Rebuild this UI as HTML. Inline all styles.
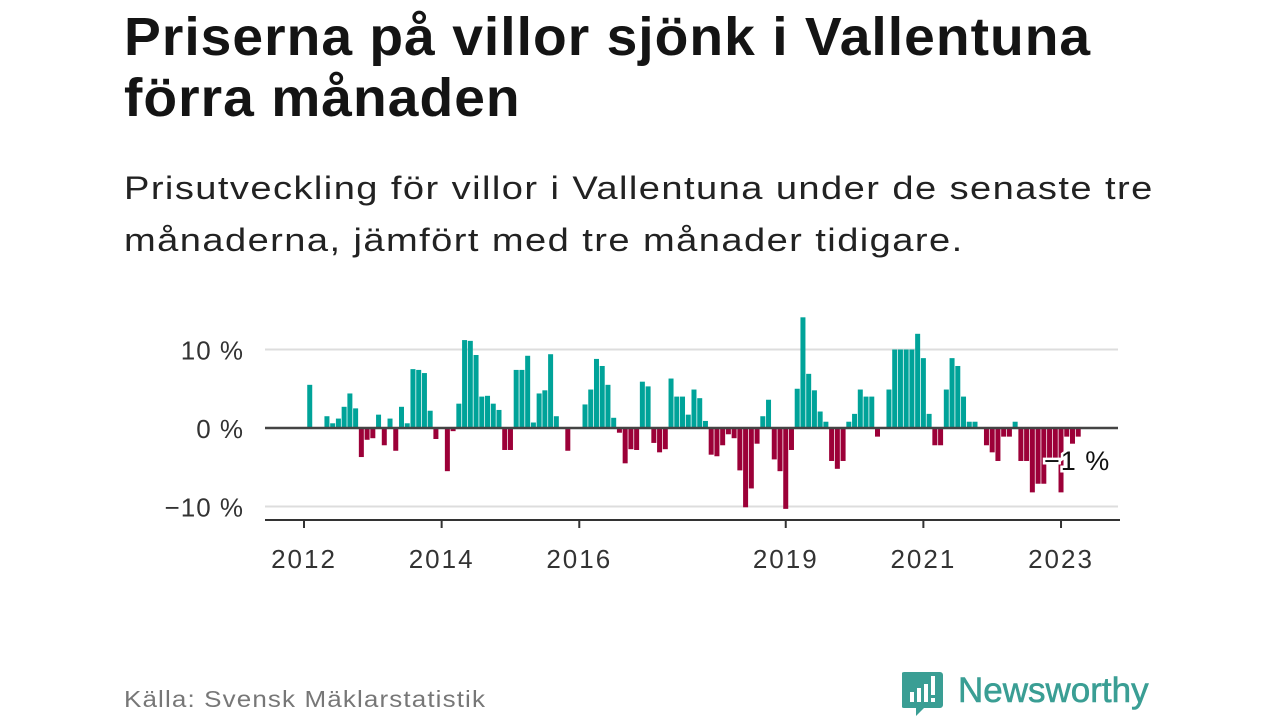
<!DOCTYPE html>
<html><head><meta charset="utf-8">
<style>
body{margin:0;width:1280px;height:720px;background:#fff;font-family:"Liberation Sans",sans-serif;overflow:hidden;position:relative}
h1{position:absolute;left:124px;top:7px;margin:0;font-size:54px;line-height:61px;font-weight:bold;color:#141414;letter-spacing:1px;transform:scaleX(1.022);transform-origin:left top;white-space:nowrap}
.sub{position:absolute;left:124px;top:162px;margin:0;font-size:32px;line-height:52px;color:#222;letter-spacing:1.2px;transform:scaleX(1.19);transform-origin:left top;white-space:nowrap}
.src{position:absolute;left:124px;top:686px;font-size:23px;color:#777;letter-spacing:1px;transform:scaleX(1.13);transform-origin:left top;white-space:nowrap}
.logo{position:absolute;left:902px;top:668px}
</style></head><body>
<h1>Priserna på villor sjönk i Vallentuna<br>förra månaden</h1>
<p class="sub">Prisutveckling för villor i Vallentuna under de senaste tre<br>månaderna, jämfört med tre månader tidigare.</p>
<svg id="chart" width="1280" height="720" style="position:absolute;left:0;top:0"></svg>
<div class="src">Källa: Svensk Mäklarstatistik</div>
<svg class="logo" width="260" height="52">
<path d="M2 4 h36 a3 3 0 0 1 3 3 v30 a3 3 0 0 1 -3 3 h-16 l-8 8 v-8 h-12 a3 3 0 0 1 -3 -3 v-30 a3 3 0 0 1 3 -3z" fill="#3a9e94"/>
<rect x="8" y="24" width="4" height="10" fill="#fff"/><rect x="15" y="20" width="4" height="14" fill="#fff"/><rect x="22" y="16" width="4" height="18" fill="#fff"/><rect x="29" y="8" width="4" height="19" fill="#fff"/><rect x="29" y="30" width="4" height="4" fill="#fff"/>
<text x="56" y="34" font-family="Liberation Sans" font-size="35" fill="#3a9e94" stroke="#3a9e94" stroke-width="0.6">Newsworthy</text>
</svg>
<script>
const months = [null,5.5,null,null,1.5,0.6,1.2,2.7,4.4,2.5,-3.7,-1.5,-1.3,1.7,-2.2,1.2,-2.9,2.7,0.6,7.5,7.4,7.0,2.2,-1.4,null,-5.5,-0.4,3.1,11.2,11.1,9.3,4.0,4.1,3.1,2.3,-2.8,-2.8,7.4,7.4,9.2,0.7,4.4,4.8,9.4,1.5,null,-2.9,null,null,3.0,4.9,8.8,7.9,5.5,1.3,-0.6,-4.5,-2.7,-2.8,5.9,5.3,-1.9,-3.1,-2.7,6.3,4.0,4.0,1.7,4.9,3.8,0.9,-3.4,-3.6,-2.2,-0.8,-1.3,-5.4,-10.1,-7.7,-2.0,1.5,3.6,-4.0,-5.5,-10.3,-2.8,5.0,14.1,6.9,4.8,2.1,0.8,-4.2,-5.2,-4.2,0.8,1.8,4.9,4.0,4.0,-1.1,null,4.9,10.0,10.0,10.0,10.0,12.0,8.9,1.8,-2.2,-2.2,4.9,8.9,7.9,4.0,0.8,0.8,null,-2.2,-3.1,-4.2,-1.1,-1.1,0.8,-4.2,-4.2,-8.2,-7.1,-7.1,-4.4,-4.0,-8.2,-1.1,-2.0,-1.1];
const yTicks = [10,0,-10];
const yLabels = ["10 %","0 %","−10 %"];
const yearTicks = [2012,2014,2016,2019,2021,2023];
const lastLabel = "−1 %";
const NS="http://www.w3.org/2000/svg";
const svg=document.getElementById('chart');
const x=i=>304+i*5.735;
const xYear=yr=>x((yr-2012)*12);
const y=v=>428-v*7.85;
function mk(t,a){const e=document.createElementNS(NS,t);for(const k in a)e.setAttribute(k,a[k]);svg.appendChild(e);return e;}
yTicks.forEach((t,k)=>{
  if(t!==0){const g=mk('line',{x1:265,x2:1118,y1:y(t),y2:y(t),stroke:'#ddd','stroke-width':2});
  
  }
  const l=mk('text',{x:244,y:y(t)+10,'text-anchor':'end','font-size':26,'letter-spacing':1,fill:'#333'});
  
  
  l.textContent=yLabels[k];
});
months.forEach((v,i)=>{
  if(v===null)return;
  const r=mk('rect',{x:x(i)-2.5,y:Math.min(y(v),y(0)),width:5,height:Math.abs(y(v)-y(0)),fill:v>=0?'#00a399':'#9c0038'});
  
  
});
const z=mk('line',{x1:265,x2:1118,y1:y(0),y2:y(0),stroke:'#444','stroke-width':2.5});


const ax=mk('line',{x1:265,x2:1120,y1:520,y2:520,stroke:'#333','stroke-width':2});


yearTicks.forEach(yr=>{
  const t=mk('line',{x1:xYear(yr),x2:xYear(yr),y1:520,y2:528,stroke:'#333','stroke-width':2});
  
  
  const l=mk('text',{x:xYear(yr),y:568,'text-anchor':'middle','font-size':26,'letter-spacing':2,fill:'#333'});
  
  
  l.textContent=yr;
});
const ll=mk('text',{x:1044,y:470,'font-size':27,'letter-spacing':1,fill:'#111',stroke:'#fff','stroke-width':5,'paint-order':'stroke'});


ll.textContent=lastLabel;
</script>
</body></html>
